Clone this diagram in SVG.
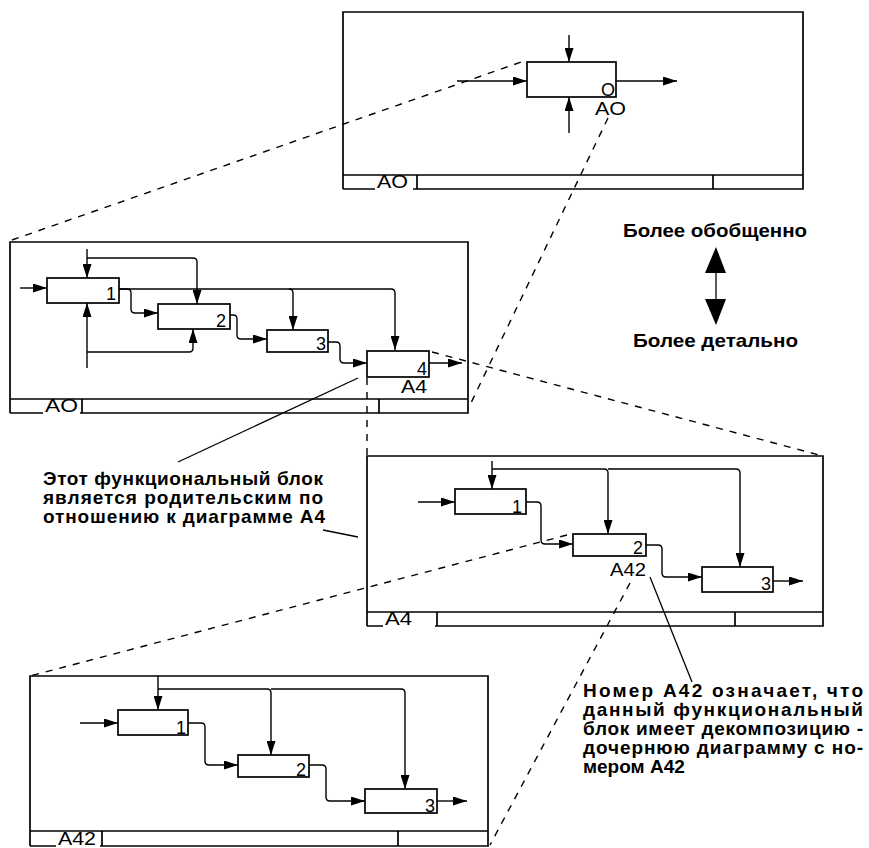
<svg xmlns="http://www.w3.org/2000/svg" width="869" height="848" viewBox="0 0 869 848">
<defs>
<marker id="ah" markerUnits="userSpaceOnUse" markerWidth="14" markerHeight="9" refX="14" refY="4.5" orient="auto">
<path d="M0,0 L14,4.5 L0,9 z" fill="#000"/>
</marker>
<style>
.fr{fill:none;stroke:#000;stroke-width:1.7}
.bx{fill:#fff;stroke:#000;stroke-width:1.7}
.c{fill:none;stroke:#000;stroke-width:1.4;marker-end:url(#ah)}
.l{fill:none;stroke:#000;stroke-width:1.3}
.d{fill:none;stroke:#000;stroke-width:1.4;stroke-dasharray:7 7}
.n{font-family:"Liberation Sans",Arial,sans-serif;font-size:18px;fill:#000}
.m{font-family:"Liberation Sans",Arial,sans-serif;font-size:18px;fill:#000}
.t{font-family:"Liberation Sans",Arial,sans-serif;font-size:19px;font-weight:bold;fill:#000}
</style>
</defs>
<rect width="869" height="848" fill="#fff"/>

<g id="guides">
<path class="d" d="M12,240 L527,60"/>
<path class="d" d="M608,118 L470,405"/>
<path class="d" d="M432,352 L823,456"/>
<path class="d" d="M367,378 L367,456"/>
<path class="d" d="M567,535 L30,676"/>
<path class="d" d="M630,583 L490,845"/>
<path class="l" d="M358,378 L178,462"/>
<path class="l" d="M323,530 L358,537"/>
<path class="l" d="M650,577 L692,682"/>
</g>

<g id="frame-A0">
<path class="fr" d="M343,189 V12 H803 V189 H413 M343,175 H803 M417,175 V189 M713,175 V189 M343,189 H375"/>
<text class="m" x="377" y="188" textLength="31" lengthAdjust="spacingAndGlyphs">AO</text>
</g>

<g id="frame-A0-diagram">
<path class="fr" d="M10,413 V242 H468 V413 H80 M10,399 H468 M82,399 V413 M379,399 V413 M10,413 H43"/>
<text class="m" x="45" y="412" textLength="33" lengthAdjust="spacingAndGlyphs">AO</text>
</g>

<g id="frame-A4">
<path class="fr" d="M367,626 V456 H823 V626 H435 M367,612 H823 M437,612 V626 M735,612 V626 M367,626 H383"/>
<text class="m" x="385" y="625" textLength="27" lengthAdjust="spacingAndGlyphs">A4</text>
</g>

<g id="frame-A42">
<path class="fr" d="M30,846 V676 H488 V846 H100 M30,831 H488 M102,831 V846 M398,831 V846 M30,846 H56"/>
<text class="m" x="58" y="845" textLength="38" lengthAdjust="spacingAndGlyphs">A42</text>
</g>

<g id="connectors">
<path class="c" d="M569,35 V62"/>
<path class="c" d="M569,133 V97"/>
<path class="c" d="M457,81 H527"/>
<path class="c" d="M616,81 H677"/>

<path class="c" d="M20,288 H47"/>
<path class="c" d="M87,249 V278"/>
<path class="c" d="M87,258 H193 Q197,258 197,262 V304"/>
<path class="c" d="M119,289 H391 Q395,289 395,293 V350"/>
<path class="c" d="M289,289 Q293,289 293,293 V330"/>
<path class="c" d="M119,289 H127 Q131,289 131,293 V309 Q131,313 135,313 H158"/>
<path class="c" d="M230,315 H233 Q237,315 237,319 V335 Q237,339 241,339 H267"/>
<path class="c" d="M328,342 H336 Q340,342 340,346 V359 Q340,363 344,363 H367"/>
<path class="c" d="M429,363 H462"/>
<path class="c" d="M87,368 V303"/>
<path class="c" d="M87,352 H189 Q193,352 193,348 V329"/>

<path class="c" d="M492,461 V489"/>
<path class="c" d="M492,469 H604 Q608,469 608,473 V534"/>
<path class="c" d="M608,469 H736 Q740,469 740,473 V567"/>
<path class="c" d="M418,502 H455"/>
<path class="c" d="M526,502 H537 Q541,502 541,506 V540 Q541,544 545,544 H573"/>
<path class="c" d="M646,545 H658 Q662,545 662,549 V573 Q662,577 666,577 H702"/>
<path class="c" d="M773,581 H803"/>

<path class="c" d="M158,676 V710"/>
<path class="c" d="M158,689 H267 Q271,689 271,693 V755"/>
<path class="c" d="M271,689 H401 Q405,689 405,693 V789"/>
<path class="c" d="M80,723 H118"/>
<path class="c" d="M188,723 H201 Q205,723 205,727 V761 Q205,765 209,765 H238"/>
<path class="c" d="M309,765 H322 Q326,765 326,769 V797 Q326,801 330,801 H365"/>
<path class="c" d="M437,801 H467"/>
</g>

<g id="box-A0">
<rect class="bx" x="527" y="62" width="89" height="35"/>
<text class="n" x="615" y="96" text-anchor="end">O</text>
<text class="m" x="595" y="115" textLength="31" lengthAdjust="spacingAndGlyphs">AO</text>
</g>

<g id="box-A1">
<rect class="bx" x="47" y="278" width="72" height="25"/>
<text class="n" x="116" y="300" text-anchor="end">1</text>
</g>
<g id="box-A2">
<rect class="bx" x="158" y="304" width="72" height="25"/>
<text class="n" x="226" y="327" text-anchor="end">2</text>
</g>
<g id="box-A3">
<rect class="bx" x="267" y="330" width="61" height="22"/>
<text class="n" x="326" y="350" text-anchor="end">3</text>
</g>
<g id="box-A4">
<rect class="bx" x="367" y="351" width="62" height="26"/>
<text class="n" x="427" y="375" text-anchor="end">4</text>
<text class="m" x="401" y="393" textLength="26" lengthAdjust="spacingAndGlyphs">A4</text>
</g>

<g id="box-A41">
<rect class="bx" x="455" y="489" width="71" height="25"/>
<text class="n" x="522" y="513" text-anchor="end">1</text>
</g>
<g id="box-A42">
<rect class="bx" x="573" y="534" width="73" height="22"/>
<text class="n" x="643" y="554" text-anchor="end">2</text>
<text class="m" x="610" y="576" textLength="36" lengthAdjust="spacingAndGlyphs">A42</text>
</g>
<g id="box-A43">
<rect class="bx" x="702" y="567" width="71" height="25"/>
<text class="n" x="771" y="590" text-anchor="end">3</text>
</g>

<g id="box-A421">
<rect class="bx" x="118" y="710" width="70" height="25"/>
<text class="n" x="186" y="734" text-anchor="end">1</text>
</g>
<g id="box-A422">
<rect class="bx" x="238" y="755" width="71" height="22"/>
<text class="n" x="306" y="776" text-anchor="end">2</text>
</g>
<g id="box-A423">
<rect class="bx" x="365" y="789" width="72" height="24"/>
<text class="n" x="435" y="812" text-anchor="end">3</text>
</g>

<g id="level-arrow">
<text class="t" x="623" y="237" textLength="184" lengthAdjust="spacingAndGlyphs">Более обобщенно</text>
<path d="M716,247 L726,273 L705,273 z" fill="#000"/>
<path class="l" d="M716,273 V299"/>
<path d="M705,299 L726,299 L716,325 z" fill="#000"/>
<text class="t" x="633" y="347" textLength="165" lengthAdjust="spacingAndGlyphs">Более детально</text>
</g>

<g id="note-parent">
<text class="t" x="43" y="485" textLength="280" lengthAdjust="spacing">Этот функциональный блок</text>
<text class="t" x="43" y="504" textLength="280" lengthAdjust="spacing">является родительским по</text>
<text class="t" x="43" y="523" textLength="282" lengthAdjust="spacing">отношению к диаграмме А4</text>
</g>

<g id="note-child">
<text class="t" x="583" y="697" textLength="280" lengthAdjust="spacing">Номер А42 означает, что</text>
<text class="t" x="583" y="716" textLength="280" lengthAdjust="spacing">данный функциональный</text>
<text class="t" x="583" y="735" textLength="280" lengthAdjust="spacing">блок имеет декомпозицию -</text>
<text class="t" x="583" y="754" textLength="280" lengthAdjust="spacing">дочернюю диаграмму с но-</text>
<text class="t" x="583" y="773">мером А42</text>
</g>
</svg>
